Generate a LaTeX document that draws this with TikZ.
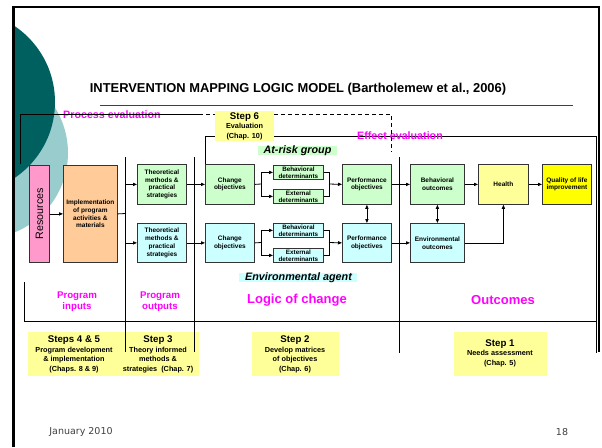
\documentclass[tikz,border=0pt]{standalone}
\usepackage{fontspec}
\setmainfont{Liberation Sans}
\setsansfont{Liberation Sans}
\newfontfamily\footfont{DejaVu Sans}
\usetikzlibrary{arrows.meta,calc}
\definecolor{teald}{HTML}{006060}
\definecolor{teall}{HTML}{99CCCC}
\definecolor{gbox}{HTML}{CCFFCC}
\definecolor{cbox}{HTML}{CCFFFF}
\definecolor{pbox}{HTML}{FF99CC}
\definecolor{obox}{HTML}{FFCC99}
\definecolor{ybox}{HTML}{FFFF99}
\definecolor{qbox}{HTML}{FFFF00}
\definecolor{mag}{HTML}{FF00FF}
\definecolor{footgray}{HTML}{404040}
\begin{document}
\begin{tikzpicture}[x=1pt,y=-1pt,
  box/.style={draw=black!80, line width=0.8pt, inner sep=0pt, align=center,
    font=\bfseries\fontsize{6.5}{7.8}\selectfont, anchor=north west},
  detbox/.style={box, font=\bfseries\fontsize{6.3}{7}\selectfont, minimum width=50, minimum height=14},
  bigbox/.style={box, minimum width=49, minimum height=40},
  stepbox/.style={fill=ybox, inner sep=0pt, anchor=north west},
  steptext/.style={align=center, font=\bfseries\fontsize{7.3}{9.6}\selectfont, inner sep=0pt},
  maglabel/.style={text=mag, font=\bfseries\fontsize{9.7}{11}\selectfont, align=center, inner sep=0pt},
  magbig/.style={text=mag, font=\bfseries\fontsize{13}{15}\selectfont, inner sep=0pt},
  evallabel/.style={text=mag, font=\bfseries\fontsize{10.7}{12}\selectfont, inner sep=0pt},
  grouplabel/.style={font=\bfseries\itshape\fontsize{10.8}{12}\selectfont, inner sep=0pt},
  ln/.style={line width=0.8pt},
  arr/.style={ln, -{Triangle[length=4pt,width=3.2pt]}},
  dbl/.style={ln, {Triangle[length=4pt,width=3.2pt]}-{Triangle[length=4pt,width=3.2pt]}},
  footer/.style={text=footgray, font=\footfont\fontsize{9.5}{11}\selectfont, inner sep=0pt}
]
\useasboundingbox (0,0) rectangle (602,447);
% decorative circles
\begin{scope}
  \clip (13,7) rectangle (602,447);
  \fill[teall] (-17.7,153) circle (85.7);
  \fill[teald] (-36.6,102) circle (91.6);
\end{scope}
% slide frame
\draw[line width=3pt] (13,7) -- (13,447);
\draw[line width=2pt] (12,7) -- (599,7) -- (599,352);
% title
\node[font=\bfseries\fontsize{12.9}{14}\selectfont, inner sep=0pt] (title) at (298,89) {INTERVENTION MAPPING LOGIC MODEL (Bartholemew et al., 2006)};
\draw[line width=1pt, black!75] (100,105) -- (573,105);

% step boxes
\node[stepbox, minimum width=94, minimum height=44] (s45) at (28,332) {};
\node[stepbox, minimum width=81, minimum height=44] (s3) at (118,332) {};
\node[stepbox, minimum width=87, minimum height=44] (s2) at (252,332) {};
\node[stepbox, minimum width=93, minimum height=44] (s1) at (454,332) {};
\node[steptext] (t45) at (74,354.5) {{\fontsize{9.7}{10}\selectfont Steps 4 \& 5}\\Program development\\\& implementation\\(Chaps. 8 \& 9)};
\node[steptext] (t3) at (158,354.5) {{\fontsize{9.7}{10}\selectfont Step 3}\\Theory informed\\methods \&\\strategies\ \ (Chap. 7)};
\node[steptext] (t2) at (295,354.5) {{\fontsize{9.7}{10}\selectfont Step 2}\\Develop matrices\\of objectives\\(Chap. 6)};
\node[steptext] (t1) at (500,353) {{\fontsize{9.7}{10}\selectfont Step 1}\\Needs assessment\\(Chap. 5)};

% dividers and bracket
\draw[ln] (125.5,157) -- (125.5,352);
\draw[ln] (194,157) -- (194,352);
\draw[ln] (399,157) -- (399,353);
\draw[ln] (24,282) -- (24,321) -- (596,321);

% boxes
\node[box, fill=pbox, minimum width=20, minimum height=97] (res) at (29,165) {};
\node[rotate=90, font=\fontsize{10.7}{12}\selectfont, inner sep=0pt] at (res.center) {Resources};
\node[box, fill=obox, minimum width=54, minimum height=97] (impl) at (63,165) {Implementation\\of program\\activities \&\\materials};
\node[bigbox, fill=gbox] (tm1) at (137,164) {Theoretical\\methods \&\\practical\\strategies};
\node[bigbox, fill=cbox, minimum height=39] (tm2) at (137,223) {Theoretical\\methods \&\\practical\\strategies};
\node[bigbox, fill=gbox] (co1) at (205,164) {Change\\objectives};
\node[bigbox, fill=cbox, minimum height=39] (co2) at (205,223) {Change\\objectives};
\node[detbox, fill=gbox] (bd1) at (273,165) {Behavioral\\determinants};
\node[detbox, fill=gbox] (ed1) at (273,189) {External\\determinants};
\node[detbox, fill=cbox] (bd2) at (273,223) {Behavioral\\determinants};
\node[detbox, fill=cbox] (ed2) at (273,248) {External\\determinants};
\node[bigbox, fill=gbox] (po1) at (342,164) {Performance\\objectives};
\node[bigbox, fill=cbox, minimum height=39] (po2) at (342,223) {Performance\\objectives};
\node[bigbox, fill=gbox, minimum width=54] (bo) at (410,164) {Behavioral\\outcomes};
\node[bigbox, fill=cbox, minimum width=54, minimum height=39] (eo) at (410,223) {Environmental\\outcomes};
\node[bigbox, fill=ybox, minimum width=50] (hl) at (478,164) {Health};
\node[bigbox, fill=qbox] (ql) at (542,164) {Quality of life\\improvement};

% connectors
\coordinate (sp1) at (125.5,213.5);
\coordinate (sp2) at (261,184);
\coordinate (sp3) at (261,242.5);
\coordinate (jn1) at (329,184);
\coordinate (jn2) at (329,242.5);
\draw[arr] (res.east) -- (impl.west);
\draw[ln] (impl.east) -- (sp1);
\draw[arr] (sp1) |- (tm1.west);
\draw[arr] (sp1) |- (tm2.west);
\draw[arr] (tm1.east) -- (co1.west);
\draw[arr] (tm2.east) -- (co2.west);
\draw[ln] (co1.east) -- (sp2);
\draw[arr] (sp2) |- (bd1.west);
\draw[arr] (sp2) |- (ed1.west);
\draw[ln] (co2.east) -- (sp3);
\draw[arr] (sp3) |- (bd2.west);
\draw[arr] (sp3) |- (ed2.west);
\draw[ln] (bd1.east) -| (jn1);
\draw[ln] (ed1.east) -| (jn1);
\draw[arr] (jn1) -- (po1.west);
\draw[ln] (bd2.east) -| (jn2);
\draw[ln] (ed2.east) -| (jn2);
\draw[arr] (jn2) -- (po2.west);
\draw[dbl] (po1.south) -- (po2.north);
\draw[arr] (po1.east) -- (bo.west);
\draw[arr] (po2.east) -- (eo.west);
\draw[dbl] (bo.south) -- (eo.north);
\draw[arr] (bo.east) -- (hl.west);
\draw[arr] (hl.east) -- (ql.west);
\draw[arr] (eo.east) -| (hl.south);

% group labels
\fill[gbox] (258,146) rectangle (337,155);
\node[grouplabel] (atrisk) at (297.5,151) {At-risk group};
\fill[cbox] (239,273) rectangle (357,281.5);
\node[grouplabel] (envag) at (298.5,277.5) {Environmental agent};

% column labels
\node[maglabel] (pin) at (77,301.5) {Program\\inputs};
\node[maglabel] (pout) at (160,301.5) {Program\\outputs};
\node[magbig] (loc) at (297,300) {Logic of change};
\node[magbig] (outc) at (503,300.5) {Outcomes};

% evaluation lines
\coordinate (efftop) at (205,136);
\coordinate (effend) at (596,353);
\draw[ln] (co1.north west) -- (efftop) -| (effend);
\node[evallabel] (efflab) at (400,136) {Effect evaluation};
% step 6
\node[stepbox, minimum width=59, minimum height=30] (st6) at (215,111) {};
\node[steptext] (st6t) at (244.5,126) {{\fontsize{9.7}{10}\selectfont Step 6}\\Evaluation\\(Chap. 10)};
\node[evallabel] (proclab) at (112,114.5) {Process evaluation};
\coordinate (procbot) at (20,164);
\coordinate (proctop) at (20,114);
\coordinate (procdash) at (199,114);
\coordinate (dashcorner) at (391,114);
\coordinate (dashend) at (391,152);
\draw[ln] (procbot) -- (proctop) -- (procdash);
\draw[ln, dash pattern=on 4pt off 3pt] (procdash) -- (proctop -| st6.west);
\draw[ln, dash pattern=on 4pt off 3pt] (proctop -| st6.east) -- (dashcorner) -- (dashend);

% footer
\node[footer] (date) at (81,432) {January 2010};
\node[footer] (page) at (562,432) {18};
\end{tikzpicture}
\end{document}
